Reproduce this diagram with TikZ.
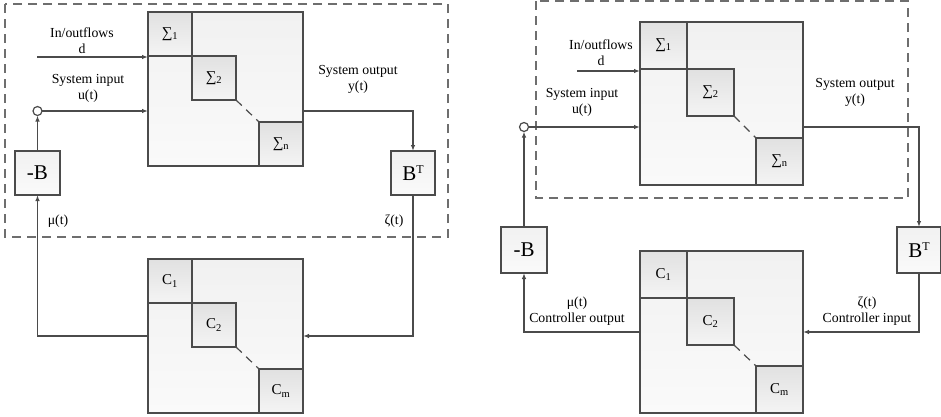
\documentclass[tikz,border=0pt]{standalone}
\usepackage{fontspec}
\setmainfont{Liberation Serif}
\usepackage{xcolor}
\usepackage{tikz}
\usetikzlibrary{arrows.meta,positioning,calc}
\definecolor{lineclr}{RGB}{75,75,75}
\definecolor{frameclr}{RGB}{110,110,110}
\definecolor{boxtop}{RGB}{241,241,241}
\definecolor{boxbot}{RGB}{250,250,250}
\definecolor{subtop}{RGB}{225,225,225}
\definecolor{subbot}{RGB}{244,244,244}
\newcommand{\supT}{\raisebox{0.75ex}{\fontsize{12}{12}\selectfont T}}
\tikzset{
  bigblock/.style={rectangle, draw=lineclr, line width=1.2pt, top color=boxtop,
                   bottom color=boxbot, inner sep=0pt, outer sep=0pt},
  subblock/.style={bigblock, top color=subtop, bottom color=subbot,
                   font=\fontsize{15}{17}\selectfont},
  gainbox/.style={bigblock, font=\fontsize{21}{24}\selectfont},
  sumpt/.style={circle, draw=lineclr, line width=1.2pt, fill=white,
                minimum size=9pt, inner sep=0pt, outer sep=0pt},
  dashframe/.style={draw=frameclr, line width=1.2pt, dash pattern=on 9pt off 6pt},
  diagdash/.style={draw=lineclr, line width=1.2pt, dash pattern=on 8pt off 6pt},
  conn/.style={draw=lineclr, line width=1.2pt},
  arr/.style={conn, -{Latex[length=6pt,width=4.5pt]}},
  lbl/.style={font=\fontsize{13.8}{16}\selectfont, align=center, inner sep=0pt},
}

\begin{document}
\begin{tikzpicture}[x=1pt,y=-1pt]
  \useasboundingbox (0,0) rectangle (941,416);
  \draw[dashframe] (5,4) rectangle (448,237);
  \node[bigblock, minimum width=155pt, minimum height=154pt] (sysL) at (225.5,89) {};
  \node[subblock, minimum size=44pt, anchor=north west] (s1L) at (sysL.north west) {∑\textsubscript{1}};
  \node[subblock, minimum size=44pt, anchor=north west] (s2L) at (s1L.south east) {∑\textsubscript{2}};
  \node[subblock, minimum size=44pt, anchor=south east] (snL) at (sysL.south east) {∑\textsubscript{n}};
  \draw[diagdash] (s2L.south east) -- (snL.north west);
  \node[bigblock, minimum width=155pt, minimum height=154pt] (ctrlL) at (225.5,336) {};
  \node[subblock, minimum size=44pt, anchor=north west] (c1L) at (ctrlL.north west) {C\textsubscript{1}};
  \node[subblock, minimum size=44pt, anchor=north west] (c2L) at (c1L.south east) {C\textsubscript{2}};
  \node[subblock, minimum size=44pt, anchor=south east] (cmL) at (ctrlL.south east) {C\textsubscript{m}};
  \draw[diagdash] (c2L.south east) -- (cmL.north west);
  \node[sumpt] (sumL) at (37.5,111) {};
  \node[gainbox, minimum width=45pt, minimum height=44pt] (negBL) at (37.5,173) {-B};
  \node[gainbox, minimum width=44pt, minimum height=44pt] (btL) at (413,173) {B\supT};
  \coordinate (dinL) at (37,57);
  \draw[arr] (dinL) -- (dinL -| sysL.west);
  \draw[arr] (sumL) -- (sumL -| sysL.west);
  \draw[arr] (negBL) -- (sumL);
  \draw[arr] (sumL -| sysL.east) -| (btL.north);
  \draw[arr] (ctrlL.west) -| (negBL.south);
  \draw[arr] (btL.south) |- (ctrlL.east);
  \node[lbl] (inL) at (82,41) {In/outflows\\d};
  \node[lbl] (uL) at (88,88) {System input\\u(t)};
  \node[lbl] (yL) at (358,79.5) {System output\\y(t)};
  \node[lbl] (muL) at (58,221) {μ(t)};
  \node[lbl] (zetaL) at (394,221) {ζ(t)};

  \draw[dashframe] (536,1) rectangle (908,198);
  \node[bigblock, minimum size=163pt] (sysR) at (721.5,103.5) {};
  \node[subblock, minimum size=47pt, anchor=north west] (s1R) at (sysR.north west) {∑\textsubscript{1}};
  \node[subblock, minimum size=47pt, anchor=north west] (s2R) at (s1R.south east) {∑\textsubscript{2}};
  \node[subblock, minimum size=47pt, anchor=south east] (snR) at (sysR.south east) {∑\textsubscript{n}};
  \draw[diagdash] (s2R.south east) -- (snR.north west);
  \node[bigblock, minimum width=163pt, minimum height=162pt] (ctrlR) at (721.5,332) {};
  \node[subblock, minimum size=47pt, anchor=north west] (c1R) at (ctrlR.north west) {C\textsubscript{1}};
  \node[subblock, minimum size=47pt, anchor=north west] (c2R) at (c1R.south east) {C\textsubscript{2}};
  \node[subblock, minimum size=47pt, anchor=south east] (cmR) at (ctrlR.south east) {C\textsubscript{m}};
  \draw[diagdash] (c2R.south east) -- (cmR.north west);
  \node[sumpt] (sumR) at (524,127) {};
  \node[gainbox, minimum width=46pt, minimum height=46pt] (negBR) at (524,250) {-B};
  \node[gainbox, minimum width=44pt, minimum height=46pt] (btR) at (919,250) {B\supT};
  \coordinate (dinR) at (577,71);
  \draw[arr] (dinR) -- (dinR -| sysR.west);
  \draw[arr] (sumR) -- (sumR -| sysR.west);
  \draw[arr] (negBR) -- (sumR);
  \draw[arr] (sumR -| sysR.east) -| (btR.north);
  \draw[arr] (ctrlR.west) -| (negBR.south);
  \draw[arr] (btR.south) |- (ctrlR.east);
  \node[lbl] (inR) at (601,53) {In/outflows\\d};
  \node[lbl] (uR) at (582,102) {System input\\u(t)};
  \node[lbl] (yR) at (855,92) {System output\\y(t)};
  \node[lbl] (muR) at (577,311) {μ(t)\\Controller output};
  \node[lbl] (zetaR) at (867,311) {ζ(t)\\Controller input};
\end{tikzpicture}
\end{document}
